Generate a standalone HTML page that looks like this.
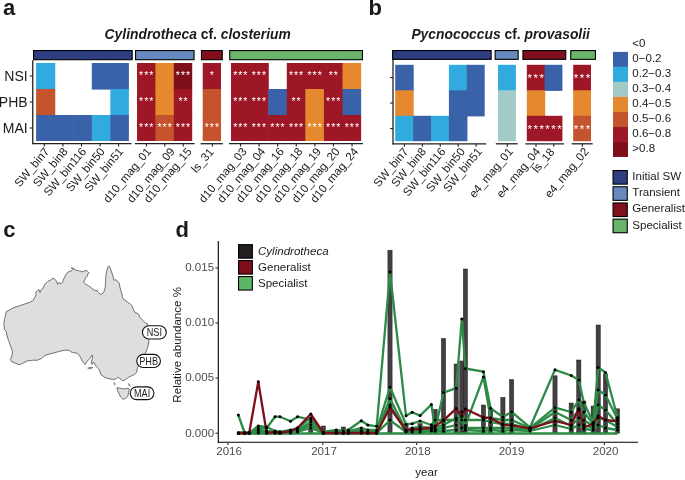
<!DOCTYPE html>
<html><head><meta charset="utf-8"><style>
html,body{margin:0;padding:0;background:#fff;width:685px;height:480px;overflow:hidden;}
svg{display:block;will-change:transform;}
text{font-family:"Liberation Sans", sans-serif;}
</style></head><body>
<svg width="685" height="480" viewBox="0 0 685 480" font-family='"Liberation Sans", sans-serif'><rect width="685" height="480" fill="#fff"/><text x="3.00" y="14.90" font-size="22" text-anchor="start" font-weight="bold" font-style="normal" fill="#1A1A1A" >a</text><text x="368.40" y="14.70" font-size="22" text-anchor="start" font-weight="bold" font-style="normal" fill="#1A1A1A" >b</text><text x="3.20" y="237.20" font-size="22" text-anchor="start" font-weight="bold" font-style="normal" fill="#1A1A1A" >c</text><text x="175.60" y="237.00" font-size="22" text-anchor="start" font-weight="bold" font-style="normal" fill="#1A1A1A" >d</text><rect x="33.55" y="50.55" width="98.65" height="9.15" fill="#2F3D81" stroke="#000" stroke-width="1.1"/><rect x="36.10" y="63.00" width="19.16" height="26.60" fill="#30AADF"/><rect x="36.10" y="89.00" width="19.16" height="26.60" fill="#C4532E"/><rect x="36.10" y="115.00" width="19.16" height="26.00" fill="#3A62A8"/><rect x="54.66" y="115.00" width="19.16" height="26.00" fill="#3A62A8"/><rect x="73.22" y="115.00" width="19.16" height="26.00" fill="#3A62A8"/><rect x="91.78" y="63.00" width="19.16" height="26.60" fill="#3A62A8"/><rect x="91.78" y="115.00" width="19.16" height="26.00" fill="#30AADF"/><rect x="110.34" y="63.00" width="18.56" height="26.60" fill="#3A62A8"/><rect x="110.34" y="89.00" width="18.56" height="26.60" fill="#30AADF"/><rect x="110.34" y="115.00" width="18.56" height="26.00" fill="#3A62A8"/><line x1="32.40" y1="143.70" x2="131.50" y2="143.70" stroke="#222222" stroke-width="1.3"/><line x1="44.38" y1="143.70" x2="44.38" y2="146.60" stroke="#222222" stroke-width="1.1"/><text transform="translate(43.38,146.40) rotate(-50)" font-size="11.55" text-anchor="end" fill="#1A1A1A" dy="0.72em">SW_bin7</text><line x1="62.94" y1="143.70" x2="62.94" y2="146.60" stroke="#222222" stroke-width="1.1"/><text transform="translate(61.94,146.40) rotate(-50)" font-size="11.55" text-anchor="end" fill="#1A1A1A" dy="0.72em">SW_bin8</text><line x1="81.50" y1="143.70" x2="81.50" y2="146.60" stroke="#222222" stroke-width="1.1"/><text transform="translate(80.50,146.40) rotate(-50)" font-size="11.55" text-anchor="end" fill="#1A1A1A" dy="0.72em">SW_bin116</text><line x1="100.06" y1="143.70" x2="100.06" y2="146.60" stroke="#222222" stroke-width="1.1"/><text transform="translate(99.06,146.40) rotate(-50)" font-size="11.55" text-anchor="end" fill="#1A1A1A" dy="0.72em">SW_bin50</text><line x1="118.62" y1="143.70" x2="118.62" y2="146.60" stroke="#222222" stroke-width="1.1"/><text transform="translate(117.62,146.40) rotate(-50)" font-size="11.55" text-anchor="end" fill="#1A1A1A" dy="0.72em">SW_bin51</text><rect x="135.55" y="50.55" width="58.50" height="9.15" fill="#6889BD" stroke="#000" stroke-width="1.1"/><rect x="137.00" y="63.00" width="19.00" height="26.60" fill="#9E1726"/><rect x="137.00" y="89.00" width="19.00" height="26.60" fill="#9E1726"/><rect x="137.00" y="115.00" width="19.00" height="26.00" fill="#9E1726"/><rect x="155.40" y="63.00" width="19.00" height="26.60" fill="#E5882E"/><rect x="155.40" y="89.00" width="19.00" height="26.60" fill="#E5882E"/><rect x="155.40" y="115.00" width="19.00" height="26.00" fill="#C4532E"/><rect x="173.80" y="63.00" width="18.40" height="26.60" fill="#7F0E1B"/><rect x="173.80" y="89.00" width="18.40" height="26.60" fill="#9E1726"/><rect x="173.80" y="115.00" width="18.40" height="26.00" fill="#9E1726"/><text x="141.10" y="79.40" font-size="10.5" text-anchor="middle" font-weight="normal" font-style="normal" fill="#FFFFFF" >*</text><text x="146.20" y="79.40" font-size="10.5" text-anchor="middle" font-weight="normal" font-style="normal" fill="#FFFFFF" >*</text><text x="151.30" y="79.40" font-size="10.5" text-anchor="middle" font-weight="normal" font-style="normal" fill="#FFFFFF" >*</text><text x="141.10" y="105.40" font-size="10.5" text-anchor="middle" font-weight="normal" font-style="normal" fill="#FFFFFF" >*</text><text x="146.20" y="105.40" font-size="10.5" text-anchor="middle" font-weight="normal" font-style="normal" fill="#FFFFFF" >*</text><text x="151.30" y="105.40" font-size="10.5" text-anchor="middle" font-weight="normal" font-style="normal" fill="#FFFFFF" >*</text><text x="141.10" y="131.40" font-size="10.5" text-anchor="middle" font-weight="normal" font-style="normal" fill="#FFFFFF" >*</text><text x="146.20" y="131.40" font-size="10.5" text-anchor="middle" font-weight="normal" font-style="normal" fill="#FFFFFF" >*</text><text x="151.30" y="131.40" font-size="10.5" text-anchor="middle" font-weight="normal" font-style="normal" fill="#FFFFFF" >*</text><text x="159.50" y="131.40" font-size="10.5" text-anchor="middle" font-weight="normal" font-style="normal" fill="#FFFFFF" >*</text><text x="164.60" y="131.40" font-size="10.5" text-anchor="middle" font-weight="normal" font-style="normal" fill="#FFFFFF" >*</text><text x="169.70" y="131.40" font-size="10.5" text-anchor="middle" font-weight="normal" font-style="normal" fill="#FFFFFF" >*</text><text x="177.90" y="79.40" font-size="10.5" text-anchor="middle" font-weight="normal" font-style="normal" fill="#FFFFFF" >*</text><text x="183.00" y="79.40" font-size="10.5" text-anchor="middle" font-weight="normal" font-style="normal" fill="#FFFFFF" >*</text><text x="188.10" y="79.40" font-size="10.5" text-anchor="middle" font-weight="normal" font-style="normal" fill="#FFFFFF" >*</text><text x="180.45" y="105.40" font-size="10.5" text-anchor="middle" font-weight="normal" font-style="normal" fill="#FFFFFF" >*</text><text x="185.55" y="105.40" font-size="10.5" text-anchor="middle" font-weight="normal" font-style="normal" fill="#FFFFFF" >*</text><text x="177.90" y="131.40" font-size="10.5" text-anchor="middle" font-weight="normal" font-style="normal" fill="#FFFFFF" >*</text><text x="183.00" y="131.40" font-size="10.5" text-anchor="middle" font-weight="normal" font-style="normal" fill="#FFFFFF" >*</text><text x="188.10" y="131.40" font-size="10.5" text-anchor="middle" font-weight="normal" font-style="normal" fill="#FFFFFF" >*</text><line x1="135.00" y1="143.70" x2="194.50" y2="143.70" stroke="#222222" stroke-width="1.3"/><line x1="146.40" y1="143.70" x2="146.40" y2="146.60" stroke="#222222" stroke-width="1.1"/><text transform="translate(145.50,146.40) rotate(-50)" font-size="11.55" text-anchor="end" fill="#1A1A1A" dy="0.72em">d10_mag_01</text><line x1="164.80" y1="143.70" x2="164.80" y2="146.60" stroke="#222222" stroke-width="1.1"/><text transform="translate(169.10,146.40) rotate(-50)" font-size="11.55" text-anchor="end" fill="#1A1A1A" dy="0.72em">d10_mag_09</text><line x1="183.20" y1="143.70" x2="183.20" y2="146.60" stroke="#222222" stroke-width="1.1"/><text transform="translate(186.00,146.40) rotate(-50)" font-size="11.55" text-anchor="end" fill="#1A1A1A" dy="0.72em">d10_mag_15</text><rect x="201.45" y="50.55" width="20.80" height="9.15" fill="#820F1D" stroke="#000" stroke-width="1.1"/><rect x="202.70" y="63.00" width="18.30" height="26.60" fill="#9E1726"/><rect x="202.70" y="89.00" width="18.30" height="26.60" fill="#C4532E"/><rect x="202.70" y="115.00" width="18.30" height="26.00" fill="#C4532E"/><text x="211.85" y="79.40" font-size="10.5" text-anchor="middle" font-weight="normal" font-style="normal" fill="#FFFFFF" >*</text><text x="206.75" y="131.40" font-size="10.5" text-anchor="middle" font-weight="normal" font-style="normal" fill="#FFFFFF" >*</text><text x="211.85" y="131.40" font-size="10.5" text-anchor="middle" font-weight="normal" font-style="normal" fill="#FFFFFF" >*</text><text x="216.95" y="131.40" font-size="10.5" text-anchor="middle" font-weight="normal" font-style="normal" fill="#FFFFFF" >*</text><line x1="200.60" y1="143.70" x2="222.80" y2="143.70" stroke="#222222" stroke-width="1.3"/><line x1="212.45" y1="143.70" x2="212.45" y2="146.60" stroke="#222222" stroke-width="1.1"/><text transform="translate(207.95,146.90) rotate(-50)" font-size="11.55" text-anchor="end" fill="#1A1A1A" dy="0.72em">ls_31</text><rect x="229.75" y="50.55" width="132.70" height="9.15" fill="#6BB46B" stroke="#000" stroke-width="1.1"/><rect x="231.00" y="63.00" width="19.19" height="26.60" fill="#9E1726"/><rect x="231.00" y="89.00" width="19.19" height="26.60" fill="#9E1726"/><rect x="231.00" y="115.00" width="19.19" height="26.00" fill="#9E1726"/><rect x="249.59" y="63.00" width="19.19" height="26.60" fill="#9E1726"/><rect x="249.59" y="89.00" width="19.19" height="26.60" fill="#9E1726"/><rect x="249.59" y="115.00" width="19.19" height="26.00" fill="#9E1726"/><rect x="268.18" y="89.00" width="19.19" height="26.60" fill="#3A62A8"/><rect x="268.18" y="115.00" width="19.19" height="26.00" fill="#9E1726"/><rect x="286.77" y="63.00" width="19.19" height="26.60" fill="#9E1726"/><rect x="286.77" y="89.00" width="19.19" height="26.60" fill="#9E1726"/><rect x="286.77" y="115.00" width="19.19" height="26.00" fill="#9E1726"/><rect x="305.36" y="63.00" width="19.19" height="26.60" fill="#9E1726"/><rect x="305.36" y="89.00" width="19.19" height="26.60" fill="#E5882E"/><rect x="305.36" y="115.00" width="19.19" height="26.00" fill="#E5882E"/><rect x="323.95" y="63.00" width="19.19" height="26.60" fill="#9E1726"/><rect x="323.95" y="89.00" width="19.19" height="26.60" fill="#9E1726"/><rect x="323.95" y="115.00" width="19.19" height="26.00" fill="#9E1726"/><rect x="342.54" y="63.00" width="18.59" height="26.60" fill="#E5882E"/><rect x="342.54" y="89.00" width="18.59" height="26.60" fill="#3A62A8"/><rect x="342.54" y="115.00" width="18.59" height="26.00" fill="#9E1726"/><text x="235.19" y="79.40" font-size="10.5" text-anchor="middle" font-weight="normal" font-style="normal" fill="#FFFFFF" >*</text><text x="240.29" y="79.40" font-size="10.5" text-anchor="middle" font-weight="normal" font-style="normal" fill="#FFFFFF" >*</text><text x="245.39" y="79.40" font-size="10.5" text-anchor="middle" font-weight="normal" font-style="normal" fill="#FFFFFF" >*</text><text x="235.19" y="105.40" font-size="10.5" text-anchor="middle" font-weight="normal" font-style="normal" fill="#FFFFFF" >*</text><text x="240.29" y="105.40" font-size="10.5" text-anchor="middle" font-weight="normal" font-style="normal" fill="#FFFFFF" >*</text><text x="245.39" y="105.40" font-size="10.5" text-anchor="middle" font-weight="normal" font-style="normal" fill="#FFFFFF" >*</text><text x="235.19" y="131.40" font-size="10.5" text-anchor="middle" font-weight="normal" font-style="normal" fill="#FFFFFF" >*</text><text x="240.29" y="131.40" font-size="10.5" text-anchor="middle" font-weight="normal" font-style="normal" fill="#FFFFFF" >*</text><text x="245.39" y="131.40" font-size="10.5" text-anchor="middle" font-weight="normal" font-style="normal" fill="#FFFFFF" >*</text><text x="253.78" y="79.40" font-size="10.5" text-anchor="middle" font-weight="normal" font-style="normal" fill="#FFFFFF" >*</text><text x="258.88" y="79.40" font-size="10.5" text-anchor="middle" font-weight="normal" font-style="normal" fill="#FFFFFF" >*</text><text x="263.99" y="79.40" font-size="10.5" text-anchor="middle" font-weight="normal" font-style="normal" fill="#FFFFFF" >*</text><text x="253.78" y="105.40" font-size="10.5" text-anchor="middle" font-weight="normal" font-style="normal" fill="#FFFFFF" >*</text><text x="258.88" y="105.40" font-size="10.5" text-anchor="middle" font-weight="normal" font-style="normal" fill="#FFFFFF" >*</text><text x="263.99" y="105.40" font-size="10.5" text-anchor="middle" font-weight="normal" font-style="normal" fill="#FFFFFF" >*</text><text x="253.78" y="131.40" font-size="10.5" text-anchor="middle" font-weight="normal" font-style="normal" fill="#FFFFFF" >*</text><text x="258.88" y="131.40" font-size="10.5" text-anchor="middle" font-weight="normal" font-style="normal" fill="#FFFFFF" >*</text><text x="263.99" y="131.40" font-size="10.5" text-anchor="middle" font-weight="normal" font-style="normal" fill="#FFFFFF" >*</text><text x="272.38" y="131.40" font-size="10.5" text-anchor="middle" font-weight="normal" font-style="normal" fill="#FFFFFF" >*</text><text x="277.48" y="131.40" font-size="10.5" text-anchor="middle" font-weight="normal" font-style="normal" fill="#FFFFFF" >*</text><text x="282.58" y="131.40" font-size="10.5" text-anchor="middle" font-weight="normal" font-style="normal" fill="#FFFFFF" >*</text><text x="290.96" y="79.40" font-size="10.5" text-anchor="middle" font-weight="normal" font-style="normal" fill="#FFFFFF" >*</text><text x="296.06" y="79.40" font-size="10.5" text-anchor="middle" font-weight="normal" font-style="normal" fill="#FFFFFF" >*</text><text x="301.17" y="79.40" font-size="10.5" text-anchor="middle" font-weight="normal" font-style="normal" fill="#FFFFFF" >*</text><text x="293.51" y="105.40" font-size="10.5" text-anchor="middle" font-weight="normal" font-style="normal" fill="#FFFFFF" >*</text><text x="298.62" y="105.40" font-size="10.5" text-anchor="middle" font-weight="normal" font-style="normal" fill="#FFFFFF" >*</text><text x="290.96" y="131.40" font-size="10.5" text-anchor="middle" font-weight="normal" font-style="normal" fill="#FFFFFF" >*</text><text x="296.06" y="131.40" font-size="10.5" text-anchor="middle" font-weight="normal" font-style="normal" fill="#FFFFFF" >*</text><text x="301.17" y="131.40" font-size="10.5" text-anchor="middle" font-weight="normal" font-style="normal" fill="#FFFFFF" >*</text><text x="309.56" y="79.40" font-size="10.5" text-anchor="middle" font-weight="normal" font-style="normal" fill="#FFFFFF" >*</text><text x="314.66" y="79.40" font-size="10.5" text-anchor="middle" font-weight="normal" font-style="normal" fill="#FFFFFF" >*</text><text x="319.76" y="79.40" font-size="10.5" text-anchor="middle" font-weight="normal" font-style="normal" fill="#FFFFFF" >*</text><text x="309.56" y="131.40" font-size="10.5" text-anchor="middle" font-weight="normal" font-style="normal" fill="#FFFFFF" >*</text><text x="314.66" y="131.40" font-size="10.5" text-anchor="middle" font-weight="normal" font-style="normal" fill="#FFFFFF" >*</text><text x="319.76" y="131.40" font-size="10.5" text-anchor="middle" font-weight="normal" font-style="normal" fill="#FFFFFF" >*</text><text x="330.69" y="79.40" font-size="10.5" text-anchor="middle" font-weight="normal" font-style="normal" fill="#FFFFFF" >*</text><text x="335.80" y="79.40" font-size="10.5" text-anchor="middle" font-weight="normal" font-style="normal" fill="#FFFFFF" >*</text><text x="328.14" y="105.40" font-size="10.5" text-anchor="middle" font-weight="normal" font-style="normal" fill="#FFFFFF" >*</text><text x="333.25" y="105.40" font-size="10.5" text-anchor="middle" font-weight="normal" font-style="normal" fill="#FFFFFF" >*</text><text x="338.35" y="105.40" font-size="10.5" text-anchor="middle" font-weight="normal" font-style="normal" fill="#FFFFFF" >*</text><text x="328.14" y="131.40" font-size="10.5" text-anchor="middle" font-weight="normal" font-style="normal" fill="#FFFFFF" >*</text><text x="333.25" y="131.40" font-size="10.5" text-anchor="middle" font-weight="normal" font-style="normal" fill="#FFFFFF" >*</text><text x="338.35" y="131.40" font-size="10.5" text-anchor="middle" font-weight="normal" font-style="normal" fill="#FFFFFF" >*</text><text x="346.73" y="131.40" font-size="10.5" text-anchor="middle" font-weight="normal" font-style="normal" fill="#FFFFFF" >*</text><text x="351.83" y="131.40" font-size="10.5" text-anchor="middle" font-weight="normal" font-style="normal" fill="#FFFFFF" >*</text><text x="356.94" y="131.40" font-size="10.5" text-anchor="middle" font-weight="normal" font-style="normal" fill="#FFFFFF" >*</text><line x1="229.00" y1="143.70" x2="362.90" y2="143.70" stroke="#222222" stroke-width="1.3"/><line x1="240.49" y1="143.70" x2="240.49" y2="146.60" stroke="#222222" stroke-width="1.1"/><text transform="translate(240.99,146.40) rotate(-50)" font-size="11.55" text-anchor="end" fill="#1A1A1A" dy="0.72em">d10_mag_03</text><line x1="259.08" y1="143.70" x2="259.08" y2="146.60" stroke="#222222" stroke-width="1.1"/><text transform="translate(259.58,146.40) rotate(-50)" font-size="11.55" text-anchor="end" fill="#1A1A1A" dy="0.72em">d10_mag_04</text><line x1="277.68" y1="143.70" x2="277.68" y2="146.60" stroke="#222222" stroke-width="1.1"/><text transform="translate(278.18,146.40) rotate(-50)" font-size="11.55" text-anchor="end" fill="#1A1A1A" dy="0.72em">d10_mag_16</text><line x1="296.26" y1="143.70" x2="296.26" y2="146.60" stroke="#222222" stroke-width="1.1"/><text transform="translate(296.76,146.40) rotate(-50)" font-size="11.55" text-anchor="end" fill="#1A1A1A" dy="0.72em">d10_mag_18</text><line x1="314.86" y1="143.70" x2="314.86" y2="146.60" stroke="#222222" stroke-width="1.1"/><text transform="translate(315.36,146.40) rotate(-50)" font-size="11.55" text-anchor="end" fill="#1A1A1A" dy="0.72em">d10_mag_19</text><line x1="333.44" y1="143.70" x2="333.44" y2="146.60" stroke="#222222" stroke-width="1.1"/><text transform="translate(333.94,146.40) rotate(-50)" font-size="11.55" text-anchor="end" fill="#1A1A1A" dy="0.72em">d10_mag_20</text><line x1="352.03" y1="143.70" x2="352.03" y2="146.60" stroke="#222222" stroke-width="1.1"/><text transform="translate(352.53,146.40) rotate(-50)" font-size="11.55" text-anchor="end" fill="#1A1A1A" dy="0.72em">d10_mag_24</text><line x1="32.75" y1="60.25" x2="32.75" y2="144.30" stroke="#222222" stroke-width="1.3"/><line x1="29.85" y1="76.00" x2="32.75" y2="76.00" stroke="#222222" stroke-width="1.1"/><text x="27.65" y="81.00" font-size="14.0" text-anchor="end" font-weight="normal" font-style="normal" fill="#1A1A1A" >NSI</text><line x1="29.85" y1="102.00" x2="32.75" y2="102.00" stroke="#222222" stroke-width="1.1"/><text x="27.65" y="107.00" font-size="14.0" text-anchor="end" font-weight="normal" font-style="normal" fill="#1A1A1A" >PHB</text><line x1="29.85" y1="128.00" x2="32.75" y2="128.00" stroke="#222222" stroke-width="1.1"/><text x="27.65" y="133.00" font-size="14.0" text-anchor="end" font-weight="normal" font-style="normal" fill="#1A1A1A" >MAI</text><text x="104.60" y="39.00" font-size="13.85" font-weight="bold" fill="#1A1A1A"><tspan font-style="italic">Cylindrotheca</tspan> cf. <tspan font-style="italic">closterium</tspan></text><rect x="392.65" y="50.55" width="98.50" height="8.80" fill="#2F3D81" stroke="#000" stroke-width="1.1"/><rect x="395.20" y="64.80" width="18.50" height="26.10" fill="#3A62A8"/><rect x="395.20" y="90.30" width="18.50" height="26.10" fill="#E5882E"/><rect x="395.20" y="115.80" width="18.50" height="25.40" fill="#30AADF"/><rect x="413.10" y="115.80" width="18.50" height="25.40" fill="#3A62A8"/><rect x="431.00" y="115.80" width="18.50" height="25.40" fill="#30AADF"/><rect x="448.90" y="64.80" width="18.50" height="26.10" fill="#30AADF"/><rect x="448.90" y="90.30" width="18.50" height="26.10" fill="#3A62A8"/><rect x="448.90" y="115.80" width="18.50" height="25.40" fill="#3A62A8"/><rect x="466.80" y="64.80" width="17.90" height="26.10" fill="#3A62A8"/><rect x="466.80" y="90.30" width="17.90" height="26.10" fill="#3A62A8"/><line x1="392.50" y1="143.80" x2="486.20" y2="143.80" stroke="#222222" stroke-width="1.3"/><line x1="404.45" y1="143.80" x2="404.45" y2="146.70" stroke="#222222" stroke-width="1.1"/><text transform="translate(402.45,146.50) rotate(-50)" font-size="11.55" text-anchor="end" fill="#1A1A1A" dy="0.72em">SW_bin7</text><line x1="422.35" y1="143.80" x2="422.35" y2="146.70" stroke="#222222" stroke-width="1.1"/><text transform="translate(420.35,146.50) rotate(-50)" font-size="11.55" text-anchor="end" fill="#1A1A1A" dy="0.72em">SW_bin8</text><line x1="440.25" y1="143.80" x2="440.25" y2="146.70" stroke="#222222" stroke-width="1.1"/><text transform="translate(439.75,146.50) rotate(-50)" font-size="11.55" text-anchor="end" fill="#1A1A1A" dy="0.72em">SW_bin116</text><line x1="458.15" y1="143.80" x2="458.15" y2="146.70" stroke="#222222" stroke-width="1.1"/><text transform="translate(459.15,146.50) rotate(-50)" font-size="11.55" text-anchor="end" fill="#1A1A1A" dy="0.72em">SW_bin50</text><line x1="476.05" y1="143.80" x2="476.05" y2="146.70" stroke="#222222" stroke-width="1.1"/><text transform="translate(476.35,146.50) rotate(-50)" font-size="11.55" text-anchor="end" fill="#1A1A1A" dy="0.72em">SW_bin51</text><rect x="495.15" y="50.55" width="23.00" height="8.80" fill="#6889BD" stroke="#000" stroke-width="1.1"/><rect x="498.00" y="64.80" width="17.90" height="26.10" fill="#30AADF"/><rect x="498.00" y="90.30" width="17.90" height="26.10" fill="#A2CBC8"/><rect x="498.00" y="115.80" width="17.90" height="25.40" fill="#A2CBC8"/><line x1="495.80" y1="143.80" x2="517.70" y2="143.80" stroke="#222222" stroke-width="1.3"/><line x1="507.25" y1="143.80" x2="507.25" y2="146.70" stroke="#222222" stroke-width="1.1"/><text transform="translate(507.25,146.50) rotate(-50)" font-size="11.55" text-anchor="end" fill="#1A1A1A" dy="0.72em">e4_mag_01</text><rect x="522.95" y="50.55" width="42.80" height="8.80" fill="#820F1D" stroke="#000" stroke-width="1.1"/><rect x="526.80" y="64.80" width="18.40" height="26.10" fill="#9E1726"/><rect x="526.80" y="90.30" width="18.40" height="26.10" fill="#E5882E"/><rect x="526.80" y="115.80" width="18.40" height="25.40" fill="#9E1726"/><rect x="544.60" y="64.80" width="17.80" height="26.10" fill="#3A62A8"/><rect x="544.60" y="115.80" width="17.80" height="25.40" fill="#9E1726"/><text x="529.70" y="82.05" font-size="11.5" text-anchor="middle" font-weight="normal" font-style="normal" fill="#FFFFFF" >*</text><text x="535.70" y="82.05" font-size="11.5" text-anchor="middle" font-weight="normal" font-style="normal" fill="#FFFFFF" >*</text><text x="541.70" y="82.05" font-size="11.5" text-anchor="middle" font-weight="normal" font-style="normal" fill="#FFFFFF" >*</text><text x="529.70" y="133.00" font-size="11.5" text-anchor="middle" font-weight="normal" font-style="normal" fill="#FFFFFF" >*</text><text x="535.70" y="133.00" font-size="11.5" text-anchor="middle" font-weight="normal" font-style="normal" fill="#FFFFFF" >*</text><text x="541.70" y="133.00" font-size="11.5" text-anchor="middle" font-weight="normal" font-style="normal" fill="#FFFFFF" >*</text><text x="547.50" y="133.00" font-size="11.5" text-anchor="middle" font-weight="normal" font-style="normal" fill="#FFFFFF" >*</text><text x="553.50" y="133.00" font-size="11.5" text-anchor="middle" font-weight="normal" font-style="normal" fill="#FFFFFF" >*</text><text x="559.50" y="133.00" font-size="11.5" text-anchor="middle" font-weight="normal" font-style="normal" fill="#FFFFFF" >*</text><line x1="525.30" y1="143.80" x2="564.00" y2="143.80" stroke="#222222" stroke-width="1.3"/><line x1="536.00" y1="143.80" x2="536.00" y2="146.70" stroke="#222222" stroke-width="1.1"/><text transform="translate(534.50,146.50) rotate(-50)" font-size="11.55" text-anchor="end" fill="#1A1A1A" dy="0.72em">e4_mag_04</text><line x1="553.80" y1="143.80" x2="553.80" y2="146.70" stroke="#222222" stroke-width="1.1"/><text transform="translate(548.80,147.00) rotate(-50)" font-size="11.55" text-anchor="end" fill="#1A1A1A" dy="0.72em">ls_18</text><rect x="570.75" y="50.55" width="24.70" height="8.80" fill="#6BB46B" stroke="#000" stroke-width="1.1"/><rect x="573.20" y="64.80" width="17.80" height="26.10" fill="#9E1726"/><rect x="573.20" y="90.30" width="17.80" height="26.10" fill="#E5882E"/><rect x="573.20" y="115.80" width="17.80" height="25.40" fill="#C4532E"/><text x="576.10" y="82.05" font-size="11.5" text-anchor="middle" font-weight="normal" font-style="normal" fill="#FFFFFF" >*</text><text x="582.10" y="82.05" font-size="11.5" text-anchor="middle" font-weight="normal" font-style="normal" fill="#FFFFFF" >*</text><text x="588.10" y="82.05" font-size="11.5" text-anchor="middle" font-weight="normal" font-style="normal" fill="#FFFFFF" >*</text><text x="576.10" y="133.00" font-size="11.5" text-anchor="middle" font-weight="normal" font-style="normal" fill="#FFFFFF" >*</text><text x="582.10" y="133.00" font-size="11.5" text-anchor="middle" font-weight="normal" font-style="normal" fill="#FFFFFF" >*</text><text x="588.10" y="133.00" font-size="11.5" text-anchor="middle" font-weight="normal" font-style="normal" fill="#FFFFFF" >*</text><line x1="571.70" y1="143.80" x2="592.70" y2="143.80" stroke="#222222" stroke-width="1.3"/><line x1="582.40" y1="143.80" x2="582.40" y2="146.70" stroke="#222222" stroke-width="1.1"/><text transform="translate(582.90,146.50) rotate(-50)" font-size="11.55" text-anchor="end" fill="#1A1A1A" dy="0.72em">e4_mag_02</text><line x1="393.00" y1="59.90" x2="393.00" y2="144.40" stroke="#222222" stroke-width="1.3"/><line x1="390.10" y1="77.55" x2="393.00" y2="77.55" stroke="#222222" stroke-width="1.1"/><line x1="390.10" y1="103.05" x2="393.00" y2="103.05" stroke="#222222" stroke-width="1.1"/><line x1="390.10" y1="128.50" x2="393.00" y2="128.50" stroke="#222222" stroke-width="1.1"/><text x="411.40" y="39.00" font-size="13.85" font-weight="bold" fill="#1A1A1A"><tspan font-style="italic">Pycnococcus</tspan> cf. <tspan font-style="italic">provasolii</tspan></text><text x="632.30" y="47.00" font-size="11.55" text-anchor="start" font-weight="normal" font-style="normal" fill="#1A1A1A" >&lt;0</text><rect x="613.0" y="51.90" width="15.0" height="15.05" fill="#3A62A8"/><text x="632.30" y="62.00" font-size="11.55" text-anchor="start" font-weight="normal" font-style="normal" fill="#1A1A1A" >0&#8722;0.2</text><rect x="613.0" y="66.90" width="15.0" height="15.05" fill="#30AADF"/><text x="632.30" y="77.00" font-size="11.55" text-anchor="start" font-weight="normal" font-style="normal" fill="#1A1A1A" >0.2&#8722;0.3</text><rect x="613.0" y="81.90" width="15.0" height="15.05" fill="#A2CBC8"/><text x="632.30" y="92.00" font-size="11.55" text-anchor="start" font-weight="normal" font-style="normal" fill="#1A1A1A" >0.3&#8722;0.4</text><rect x="613.0" y="96.90" width="15.0" height="15.05" fill="#E5882E"/><text x="632.30" y="107.00" font-size="11.55" text-anchor="start" font-weight="normal" font-style="normal" fill="#1A1A1A" >0.4&#8722;0.5</text><rect x="613.0" y="111.90" width="15.0" height="15.05" fill="#C4532E"/><text x="632.30" y="122.00" font-size="11.55" text-anchor="start" font-weight="normal" font-style="normal" fill="#1A1A1A" >0.5&#8722;0.6</text><rect x="613.0" y="126.90" width="15.0" height="15.05" fill="#9E1726"/><text x="632.30" y="137.00" font-size="11.55" text-anchor="start" font-weight="normal" font-style="normal" fill="#1A1A1A" >0.6&#8722;0.8</text><rect x="613.0" y="141.90" width="15.0" height="15.05" fill="#7F0E1B"/><text x="632.30" y="152.00" font-size="11.55" text-anchor="start" font-weight="normal" font-style="normal" fill="#1A1A1A" >&gt;0.8</text><rect x="613.05" y="170.55" width="14.20" height="13.60" fill="#2F3D81" stroke="#000" stroke-width="1.1"/><text x="632.30" y="180.05" font-size="11.55" text-anchor="start" font-weight="normal" font-style="normal" fill="#1A1A1A" >Initial SW</text><rect x="613.05" y="186.75" width="14.20" height="13.60" fill="#6889BD" stroke="#000" stroke-width="1.1"/><text x="632.30" y="196.25" font-size="11.55" text-anchor="start" font-weight="normal" font-style="normal" fill="#1A1A1A" >Transient</text><rect x="613.05" y="202.95" width="14.20" height="13.60" fill="#820F1D" stroke="#000" stroke-width="1.1"/><text x="632.30" y="212.45" font-size="11.55" text-anchor="start" font-weight="normal" font-style="normal" fill="#1A1A1A" >Generalist</text><rect x="613.05" y="219.15" width="14.20" height="13.60" fill="#6BB46B" stroke="#000" stroke-width="1.1"/><text x="632.30" y="228.65" font-size="11.55" text-anchor="start" font-weight="normal" font-style="normal" fill="#1A1A1A" >Specialist</text><path d="M11.7,361.7 L10.2,359.4 L11.7,357.0 L12.5,351.6 L10.9,346.9 L8.6,340.6 L7.0,335.9 L6.2,331.2 L3.9,328.9 L4.4,327.3 L3.9,323.4 L4.4,319.5 L5.5,315.6 L6.2,311.7 L7.8,310.9 L11.7,308.6 L15.6,307.0 L20.3,305.5 L25.0,303.9 L29.7,302.3 L32.8,300.8 L34.4,298.1 L36.2,295.0 L35.6,292.5 L37.5,290.6 L38.8,289.4 L40.0,292.5 L41.2,290.0 L43.1,288.1 L44.4,285.0 L46.2,283.1 L48.1,281.2 L50.6,280.0 L53.1,278.1 L55.0,279.4 L56.9,281.9 L57.5,284.4 L58.8,282.5 L61.2,283.8 L62.5,282.5 L63.8,278.8 L65.6,275.0 L67.5,272.5 L70.0,271.2 L71.9,270.6 L73.1,269.4 L71.2,268.1 L73.8,268.1 L75.0,270.0 L77.5,270.6 L79.4,270.9 L82.2,271.9 L84.5,270.9 L86.4,270.5 L88.3,271.9 L89.2,272.8 L87.8,273.8 L87.3,276.1 L85.9,277.5 L85.0,279.4 L83.6,282.2 L85.5,284.0 L88.7,285.9 L92.5,288.8 L94.8,290.6 L97.2,290.6 L97.6,292.0 L99.1,293.4 L100.9,294.4 L102.8,293.4 L104.2,291.1 L105.1,287.8 L105.6,283.1 L105.6,278.4 L106.1,273.8 L107.0,270.0 L108.0,266.7 L108.9,265.8 L109.8,266.7 L110.8,270.0 L112.2,273.8 L113.1,276.6 L114.0,280.3 L115.9,279.8 L117.8,281.2 L119.2,283.1 L119.9,287.0 L120.6,290.0 L121.9,293.8 L122.5,297.5 L124.4,300.0 L127.5,301.9 L130.6,304.4 L131.9,305.6 L133.1,308.8 L135.0,312.5 L136.9,313.1 L138.8,314.4 L140.0,317.5 L143.1,320.6 L145.6,323.1 L147.5,323.8 L148.6,330.0 L149.1,339.4 L148.3,345.2 L146.9,349.6 L145.4,353.2 L141.5,360.0 L137.4,367.8 L136.7,372.2 L134.5,374.4 L131.6,375.8 L128.6,377.3 L126.5,378.8 L124.3,380.2 L122.8,381.0 L121.4,379.5 L119.2,378.0 L117.7,377.3 L116.2,378.8 L113.3,379.5 L109.0,378.8 L104.6,377.3 L100.9,374.4 L100.1,372.0 L99.0,369.5 L97.5,367.5 L96.2,366.4 L95.0,364.5 L94.2,362.5 L93.3,362.2 L92.4,364.3 L91.2,363.6 L91.6,361.0 L92.6,357.5 L92.1,355.0 L89.9,358.6 L87.0,361.2 L85.2,364.5 L83.4,362.6 L81.9,360.0 L79.7,356.0 L77.5,353.5 L74.0,352.6 L71.0,352.0 L69.1,350.2 L64.1,350.3 L58.6,351.6 L53.1,353.1 L46.9,354.7 L43.8,356.2 L41.4,358.6 L37.5,360.2 L32.8,360.2 L27.3,360.9 L22.7,363.3 L19.5,364.8 L15.6,363.3 Z" fill="#DEDEDE" stroke="#505050" stroke-width="0.8" stroke-linejoin="round"/><path d="M87.7,368.1 L90.0,367.4 L92.8,367.5 L91.0,368.6 L88.5,368.8 Z" fill="#DEDEDE" stroke="#505050" stroke-width="0.7"/><path d="M117.0,387.5 L119.2,388.2 L124.3,389.0 L127.9,388.2 L129.4,389.0 L128.6,392.6 L127.9,396.2 L125.7,398.4 L122.8,399.2 L120.6,397.0 L119.2,394.0 L117.7,391.1 Z" fill="#DEDEDE" stroke="#505050" stroke-width="0.8" stroke-linejoin="round"/><ellipse cx="114.5" cy="383.8" rx="0.6" ry="1.1" fill="#DEDEDE" stroke="#505050" stroke-width="0.6"/><path d="M128.3,383.6 L129.6,384.4 L130.4,386.2 L129.2,385.6 Z" fill="#DEDEDE" stroke="#505050" stroke-width="0.6"/><rect x="142.45" y="325.75" width="23.80" height="13.30" rx="6.65" fill="#fff" stroke="#111" stroke-width="1.1"/><text transform="translate(154.35,336.05) scale(0.86,1)" font-size="10.6" text-anchor="middle" fill="#1a1a1a">NSI</text><rect x="136.75" y="354.35" width="23.70" height="13.10" rx="6.55" fill="#fff" stroke="#111" stroke-width="1.1"/><text transform="translate(148.60,364.55) scale(0.86,1)" font-size="10.6" text-anchor="middle" fill="#1a1a1a">PHB</text><rect x="130.25" y="386.85" width="23.70" height="12.80" rx="6.40" fill="#fff" stroke="#111" stroke-width="1.1"/><text transform="translate(142.10,396.90) scale(0.86,1)" font-size="10.6" text-anchor="middle" fill="#1a1a1a">MAI</text><line x1="218.3" y1="241.0" x2="218.3" y2="442.75" stroke="#000" stroke-width="1.1"/><line x1="217.75" y1="442.2" x2="638.1" y2="442.2" stroke="#000" stroke-width="1.1"/><line x1="215.4" y1="433.20" x2="218.3" y2="433.20" stroke="#333" stroke-width="1.1"/><text x="214.10" y="436.50" font-size="11.55" text-anchor="end" font-weight="normal" font-style="normal" fill="#4D4D4D" >0.000</text><line x1="215.4" y1="378.10" x2="218.3" y2="378.10" stroke="#333" stroke-width="1.1"/><text x="214.10" y="381.40" font-size="11.55" text-anchor="end" font-weight="normal" font-style="normal" fill="#4D4D4D" >0.005</text><line x1="215.4" y1="323.00" x2="218.3" y2="323.00" stroke="#333" stroke-width="1.1"/><text x="214.10" y="326.30" font-size="11.55" text-anchor="end" font-weight="normal" font-style="normal" fill="#4D4D4D" >0.010</text><line x1="215.4" y1="267.90" x2="218.3" y2="267.90" stroke="#333" stroke-width="1.1"/><text x="214.10" y="271.20" font-size="11.55" text-anchor="end" font-weight="normal" font-style="normal" fill="#4D4D4D" >0.015</text><line x1="227.9" y1="442.2" x2="227.9" y2="445.09999999999997" stroke="#333" stroke-width="1.1"/><text x="229.10" y="454.60" font-size="11.55" text-anchor="middle" font-weight="normal" font-style="normal" fill="#4D4D4D" >2016</text><line x1="322.8" y1="442.2" x2="322.8" y2="445.09999999999997" stroke="#333" stroke-width="1.1"/><text x="324.00" y="454.60" font-size="11.55" text-anchor="middle" font-weight="normal" font-style="normal" fill="#4D4D4D" >2017</text><line x1="416.6" y1="442.2" x2="416.6" y2="445.09999999999997" stroke="#333" stroke-width="1.1"/><text x="417.80" y="454.60" font-size="11.55" text-anchor="middle" font-weight="normal" font-style="normal" fill="#4D4D4D" >2018</text><line x1="510.3" y1="442.2" x2="510.3" y2="445.09999999999997" stroke="#333" stroke-width="1.1"/><text x="511.50" y="454.60" font-size="11.55" text-anchor="middle" font-weight="normal" font-style="normal" fill="#4D4D4D" >2019</text><line x1="604.4" y1="442.2" x2="604.4" y2="445.09999999999997" stroke="#333" stroke-width="1.1"/><text x="605.60" y="454.60" font-size="11.55" text-anchor="middle" font-weight="normal" font-style="normal" fill="#4D4D4D" >2020</text><text x="426.50" y="476.20" font-size="11.55" text-anchor="middle" font-weight="normal" font-style="normal" fill="#1A1A1A" >year</text><text transform="translate(180.9,344.85) rotate(-90)" font-size="11.55" text-anchor="middle" fill="#1A1A1A">Relative abundance %</text><rect x="308.70" y="423.00" width="4.2" height="10.20" fill="#433F43" stroke="#231F20" stroke-width="0.5"/><rect x="321.20" y="426.00" width="4.2" height="7.20" fill="#433F43" stroke="#231F20" stroke-width="0.5"/><rect x="341.20" y="427.00" width="4.2" height="6.20" fill="#433F43" stroke="#231F20" stroke-width="0.5"/><rect x="359.20" y="428.00" width="4.2" height="5.20" fill="#433F43" stroke="#231F20" stroke-width="0.5"/><rect x="387.90" y="250.20" width="4.2" height="183.00" fill="#433F43" stroke="#231F20" stroke-width="0.5"/><rect x="403.90" y="424.00" width="4.2" height="9.20" fill="#433F43" stroke="#231F20" stroke-width="0.5"/><rect x="410.10" y="427.60" width="4.2" height="5.60" fill="#433F43" stroke="#231F20" stroke-width="0.5"/><rect x="418.00" y="423.60" width="4.2" height="9.60" fill="#433F43" stroke="#231F20" stroke-width="0.5"/><rect x="433.00" y="409.40" width="4.2" height="23.80" fill="#433F43" stroke="#231F20" stroke-width="0.5"/><rect x="441.40" y="338.50" width="4.2" height="94.70" fill="#433F43" stroke="#231F20" stroke-width="0.5"/><rect x="454.10" y="364.00" width="4.2" height="69.20" fill="#433F43" stroke="#231F20" stroke-width="0.5"/><rect x="459.70" y="361.00" width="4.2" height="72.20" fill="#433F43" stroke="#231F20" stroke-width="0.5"/><rect x="463.30" y="269.00" width="4.2" height="164.20" fill="#433F43" stroke="#231F20" stroke-width="0.5"/><rect x="481.30" y="405.00" width="4.2" height="28.20" fill="#433F43" stroke="#231F20" stroke-width="0.5"/><rect x="488.50" y="408.80" width="4.2" height="24.40" fill="#433F43" stroke="#231F20" stroke-width="0.5"/><rect x="500.80" y="397.30" width="4.2" height="35.90" fill="#433F43" stroke="#231F20" stroke-width="0.5"/><rect x="509.50" y="379.60" width="4.2" height="53.60" fill="#433F43" stroke="#231F20" stroke-width="0.5"/><rect x="552.90" y="375.80" width="4.2" height="57.40" fill="#433F43" stroke="#231F20" stroke-width="0.5"/><rect x="569.10" y="403.00" width="4.2" height="30.20" fill="#433F43" stroke="#231F20" stroke-width="0.5"/><rect x="576.70" y="360.00" width="4.2" height="73.20" fill="#433F43" stroke="#231F20" stroke-width="0.5"/><rect x="581.70" y="401.00" width="4.2" height="32.20" fill="#433F43" stroke="#231F20" stroke-width="0.5"/><rect x="591.10" y="406.00" width="4.2" height="27.20" fill="#433F43" stroke="#231F20" stroke-width="0.5"/><rect x="596.10" y="325.00" width="4.2" height="108.20" fill="#433F43" stroke="#231F20" stroke-width="0.5"/><rect x="603.40" y="373.80" width="4.2" height="59.40" fill="#433F43" stroke="#231F20" stroke-width="0.5"/><rect x="615.40" y="408.80" width="4.2" height="24.40" fill="#433F43" stroke="#231F20" stroke-width="0.5"/><path d="M238.3,433.5 L244.7,433.5 L249.2,433.5 L258.3,433.5 L266.7,433.5 L275.0,433.5 L280.0,433.5 L290.5,433.5 L297.5,433.5 L310.8,433.5 L323.3,433.5 L336.2,433.5 L343.3,433.5 L348.3,433.5 L361.3,433.5 L367.8,433.5 L376.7,433.5 L390.0,433.5 L406.0,433.5 L412.2,433.5 L420.1,433.5 L431.4,433.5 L435.1,433.5 L443.5,433.5 L456.2,433.5 L461.8,433.5 L465.4,433.5 L483.4,433.5 L490.6,433.5 L502.9,433.5 L511.6,433.5 L530.0,433.5 L555.0,433.5 L571.2,433.5 L578.8,433.5 L583.8,433.5 L593.2,433.5 L598.2,433.5 L605.5,433.5 L617.5,433.5" fill="none" stroke="#2E8B46" stroke-width="2.3" stroke-linejoin="round"/><path d="M238.3,433.0 L244.7,433.0 L249.2,433.0 L258.3,433.0 L266.7,433.0 L275.0,433.0 L280.0,433.0 L290.5,433.0 L297.5,432.0 L310.8,428.0 L323.3,433.0 L336.2,433.0 L343.3,433.0 L348.3,433.0 L361.3,433.0 L367.8,433.0 L376.7,433.0 L390.0,420.3 L406.0,432.0 L412.2,432.0 L420.1,432.0 L431.4,431.0 L435.1,431.0 L443.5,431.0 L456.2,430.0 L461.8,428.0 L465.4,430.0 L483.4,431.0 L490.6,430.0 L502.9,431.0 L511.6,430.0 L530.0,431.0 L555.0,425.0 L571.2,429.0 L578.8,425.0 L583.8,429.0 L593.2,430.0 L598.2,425.0 L605.5,428.0 L617.5,430.0" fill="none" stroke="#2E8B46" stroke-width="2.3" stroke-linejoin="round"/><path d="M238.3,433.0 L244.7,433.0 L249.2,433.0 L258.3,432.0 L266.7,432.0 L275.0,433.0 L280.0,433.0 L290.5,432.0 L297.5,431.0 L310.8,425.0 L323.3,433.0 L336.2,433.0 L343.3,433.0 L348.3,433.0 L361.3,432.0 L367.8,433.0 L376.7,433.0 L390.0,405.3 L406.0,431.0 L412.2,430.0 L420.1,430.0 L431.4,430.0 L435.1,429.0 L443.5,428.0 L456.2,425.0 L461.8,420.0 L465.4,428.0 L483.4,428.0 L490.6,428.0 L502.9,428.0 L511.6,428.0 L530.0,430.0 L555.0,418.0 L571.2,426.0 L578.8,418.0 L583.8,425.0 L593.2,428.0 L598.2,418.0 L605.5,420.0 L617.5,427.0" fill="none" stroke="#2E8B46" stroke-width="2.3" stroke-linejoin="round"/><path d="M238.3,433.0 L244.7,433.0 L249.2,433.0 L258.3,430.0 L266.7,431.0 L275.0,432.0 L280.0,432.0 L290.5,431.0 L297.5,430.0 L310.8,422.0 L323.3,433.0 L336.2,432.0 L343.3,433.0 L348.3,432.0 L361.3,431.0 L367.8,432.0 L376.7,432.0 L390.0,398.8 L406.0,430.0 L412.2,428.0 L420.1,427.0 L431.4,428.0 L435.1,427.0 L443.5,425.0 L456.2,418.0 L461.8,412.0 L465.4,420.0 L483.4,420.0 L490.6,422.0 L502.9,424.0 L511.6,424.0 L530.0,429.0 L555.0,412.0 L571.2,420.0 L578.8,410.0 L583.8,420.0 L593.2,426.0 L598.2,405.0 L605.5,410.0 L617.5,424.0" fill="none" stroke="#2E8B46" stroke-width="2.3" stroke-linejoin="round"/><path d="M238.3,433.0 L244.7,433.0 L249.2,433.0 L258.3,426.0 L266.7,427.0 L275.0,431.0 L280.0,432.0 L290.5,430.0 L297.5,428.0 L310.8,418.0 L323.3,433.0 L336.2,431.0 L343.3,432.0 L348.3,431.0 L361.3,428.0 L367.8,430.0 L376.7,430.0 L390.0,387.2 L406.0,424.2 L412.2,423.7 L420.1,421.0 L431.4,425.0 L435.1,420.0 L443.5,420.0 L456.2,420.0 L461.8,416.0 L465.4,425.4 L483.4,377.1 L490.6,418.0 L502.9,420.0 L511.6,420.0 L530.0,428.0 L555.0,407.7 L571.2,412.0 L578.8,400.0 L583.8,412.0 L593.2,424.0 L598.2,390.0 L605.5,395.0 L617.5,419.0" fill="none" stroke="#2E8B46" stroke-width="2.3" stroke-linejoin="round"/><path d="M238.3,415.0 L244.7,433.0 L249.2,433.0 L258.3,428.0 L266.7,428.0 L275.0,416.7 L280.0,416.7 L290.5,421.3 L297.5,416.7 L310.8,420.0 L323.3,432.0 L336.2,430.0 L343.3,431.0 L348.3,430.0 L361.3,420.8 L367.8,425.0 L376.7,426.3 L390.0,272.0 L406.0,415.8 L412.2,412.3 L420.1,415.6 L431.4,404.5 L435.1,430.0 L443.5,392.6 L456.2,388.2 L461.8,319.0 L465.4,368.5 L483.4,371.7 L490.6,408.3 L502.9,417.0 L511.6,411.9 L530.0,427.5 L555.0,369.8 L571.2,375.5 L578.8,380.0 L583.8,402.5 L593.2,422.5 L598.2,367.5 L605.5,372.5 L617.5,417.5" fill="none" stroke="#2E8B46" stroke-width="2.3" stroke-linejoin="round"/><path d="M238.3,433.0 L244.7,433.0 L249.2,433.0 L258.3,381.7 L266.7,433.0 L275.0,432.0 L280.0,433.0 L290.5,431.0 L297.5,428.0 L310.8,414.0 L323.3,433.0 L336.2,433.0 L343.3,433.0 L348.3,433.0 L361.3,433.0 L367.8,433.0 L376.7,433.0 L390.0,407.5 L406.0,430.5 L412.2,429.5 L420.1,429.0 L431.4,427.6 L435.1,426.1 L443.5,420.3 L456.2,408.6 L461.8,416.4 L465.4,409.0 L483.4,417.5 L490.6,418.0 L502.9,424.8 L511.6,425.4 L530.0,428.3 L555.0,421.0 L571.2,425.0 L578.8,408.8 L583.8,427.5 L593.2,423.8 L598.2,416.0 L605.5,420.0 L617.5,421.3" fill="none" stroke="#7F0E1C" stroke-width="2.3" stroke-linejoin="round"/><circle cx="238.3" cy="415.0" r="1.5" fill="#000"/><circle cx="244.7" cy="433.0" r="1.5" fill="#000"/><circle cx="249.2" cy="433.0" r="1.5" fill="#000"/><circle cx="258.3" cy="428.0" r="1.5" fill="#000"/><circle cx="266.7" cy="428.0" r="1.5" fill="#000"/><circle cx="275.0" cy="416.7" r="1.5" fill="#000"/><circle cx="280.0" cy="416.7" r="1.5" fill="#000"/><circle cx="290.5" cy="421.3" r="1.5" fill="#000"/><circle cx="297.5" cy="416.7" r="1.5" fill="#000"/><circle cx="310.8" cy="420.0" r="1.5" fill="#000"/><circle cx="323.3" cy="432.0" r="1.5" fill="#000"/><circle cx="336.2" cy="430.0" r="1.5" fill="#000"/><circle cx="343.3" cy="431.0" r="1.5" fill="#000"/><circle cx="348.3" cy="430.0" r="1.5" fill="#000"/><circle cx="361.3" cy="420.8" r="1.5" fill="#000"/><circle cx="367.8" cy="425.0" r="1.5" fill="#000"/><circle cx="376.7" cy="426.3" r="1.5" fill="#000"/><circle cx="390.0" cy="272.0" r="1.5" fill="#000"/><circle cx="406.0" cy="415.8" r="1.5" fill="#000"/><circle cx="412.2" cy="412.3" r="1.5" fill="#000"/><circle cx="420.1" cy="415.6" r="1.5" fill="#000"/><circle cx="431.4" cy="404.5" r="1.5" fill="#000"/><circle cx="435.1" cy="430.0" r="1.5" fill="#000"/><circle cx="443.5" cy="392.6" r="1.5" fill="#000"/><circle cx="456.2" cy="388.2" r="1.5" fill="#000"/><circle cx="461.8" cy="319.0" r="1.5" fill="#000"/><circle cx="465.4" cy="368.5" r="1.5" fill="#000"/><circle cx="483.4" cy="371.7" r="1.5" fill="#000"/><circle cx="490.6" cy="408.3" r="1.5" fill="#000"/><circle cx="502.9" cy="417.0" r="1.5" fill="#000"/><circle cx="511.6" cy="411.9" r="1.5" fill="#000"/><circle cx="530.0" cy="427.5" r="1.5" fill="#000"/><circle cx="555.0" cy="369.8" r="1.5" fill="#000"/><circle cx="571.2" cy="375.5" r="1.5" fill="#000"/><circle cx="578.8" cy="380.0" r="1.5" fill="#000"/><circle cx="583.8" cy="402.5" r="1.5" fill="#000"/><circle cx="593.2" cy="422.5" r="1.5" fill="#000"/><circle cx="598.2" cy="367.5" r="1.5" fill="#000"/><circle cx="605.5" cy="372.5" r="1.5" fill="#000"/><circle cx="617.5" cy="417.5" r="1.5" fill="#000"/><circle cx="238.3" cy="433.0" r="1.5" fill="#000"/><circle cx="244.7" cy="433.0" r="1.5" fill="#000"/><circle cx="249.2" cy="433.0" r="1.5" fill="#000"/><circle cx="258.3" cy="426.0" r="1.5" fill="#000"/><circle cx="266.7" cy="427.0" r="1.5" fill="#000"/><circle cx="275.0" cy="431.0" r="1.5" fill="#000"/><circle cx="280.0" cy="432.0" r="1.5" fill="#000"/><circle cx="290.5" cy="430.0" r="1.5" fill="#000"/><circle cx="297.5" cy="428.0" r="1.5" fill="#000"/><circle cx="310.8" cy="418.0" r="1.5" fill="#000"/><circle cx="323.3" cy="433.0" r="1.5" fill="#000"/><circle cx="336.2" cy="431.0" r="1.5" fill="#000"/><circle cx="343.3" cy="432.0" r="1.5" fill="#000"/><circle cx="348.3" cy="431.0" r="1.5" fill="#000"/><circle cx="361.3" cy="428.0" r="1.5" fill="#000"/><circle cx="367.8" cy="430.0" r="1.5" fill="#000"/><circle cx="376.7" cy="430.0" r="1.5" fill="#000"/><circle cx="390.0" cy="387.2" r="1.5" fill="#000"/><circle cx="406.0" cy="424.2" r="1.5" fill="#000"/><circle cx="412.2" cy="423.7" r="1.5" fill="#000"/><circle cx="420.1" cy="421.0" r="1.5" fill="#000"/><circle cx="431.4" cy="425.0" r="1.5" fill="#000"/><circle cx="435.1" cy="420.0" r="1.5" fill="#000"/><circle cx="443.5" cy="420.0" r="1.5" fill="#000"/><circle cx="456.2" cy="420.0" r="1.5" fill="#000"/><circle cx="461.8" cy="416.0" r="1.5" fill="#000"/><circle cx="465.4" cy="425.4" r="1.5" fill="#000"/><circle cx="483.4" cy="377.1" r="1.5" fill="#000"/><circle cx="490.6" cy="418.0" r="1.5" fill="#000"/><circle cx="502.9" cy="420.0" r="1.5" fill="#000"/><circle cx="511.6" cy="420.0" r="1.5" fill="#000"/><circle cx="530.0" cy="428.0" r="1.5" fill="#000"/><circle cx="555.0" cy="407.7" r="1.5" fill="#000"/><circle cx="571.2" cy="412.0" r="1.5" fill="#000"/><circle cx="578.8" cy="400.0" r="1.5" fill="#000"/><circle cx="583.8" cy="412.0" r="1.5" fill="#000"/><circle cx="593.2" cy="424.0" r="1.5" fill="#000"/><circle cx="598.2" cy="390.0" r="1.5" fill="#000"/><circle cx="605.5" cy="395.0" r="1.5" fill="#000"/><circle cx="617.5" cy="419.0" r="1.5" fill="#000"/><circle cx="238.3" cy="433.0" r="1.5" fill="#000"/><circle cx="244.7" cy="433.0" r="1.5" fill="#000"/><circle cx="249.2" cy="433.0" r="1.5" fill="#000"/><circle cx="258.3" cy="430.0" r="1.5" fill="#000"/><circle cx="266.7" cy="431.0" r="1.5" fill="#000"/><circle cx="275.0" cy="432.0" r="1.5" fill="#000"/><circle cx="280.0" cy="432.0" r="1.5" fill="#000"/><circle cx="290.5" cy="431.0" r="1.5" fill="#000"/><circle cx="297.5" cy="430.0" r="1.5" fill="#000"/><circle cx="310.8" cy="422.0" r="1.5" fill="#000"/><circle cx="323.3" cy="433.0" r="1.5" fill="#000"/><circle cx="336.2" cy="432.0" r="1.5" fill="#000"/><circle cx="343.3" cy="433.0" r="1.5" fill="#000"/><circle cx="348.3" cy="432.0" r="1.5" fill="#000"/><circle cx="361.3" cy="431.0" r="1.5" fill="#000"/><circle cx="367.8" cy="432.0" r="1.5" fill="#000"/><circle cx="376.7" cy="432.0" r="1.5" fill="#000"/><circle cx="390.0" cy="398.8" r="1.5" fill="#000"/><circle cx="406.0" cy="430.0" r="1.5" fill="#000"/><circle cx="412.2" cy="428.0" r="1.5" fill="#000"/><circle cx="420.1" cy="427.0" r="1.5" fill="#000"/><circle cx="431.4" cy="428.0" r="1.5" fill="#000"/><circle cx="435.1" cy="427.0" r="1.5" fill="#000"/><circle cx="443.5" cy="425.0" r="1.5" fill="#000"/><circle cx="456.2" cy="418.0" r="1.5" fill="#000"/><circle cx="461.8" cy="412.0" r="1.5" fill="#000"/><circle cx="465.4" cy="420.0" r="1.5" fill="#000"/><circle cx="483.4" cy="420.0" r="1.5" fill="#000"/><circle cx="490.6" cy="422.0" r="1.5" fill="#000"/><circle cx="502.9" cy="424.0" r="1.5" fill="#000"/><circle cx="511.6" cy="424.0" r="1.5" fill="#000"/><circle cx="530.0" cy="429.0" r="1.5" fill="#000"/><circle cx="555.0" cy="412.0" r="1.5" fill="#000"/><circle cx="571.2" cy="420.0" r="1.5" fill="#000"/><circle cx="578.8" cy="410.0" r="1.5" fill="#000"/><circle cx="583.8" cy="420.0" r="1.5" fill="#000"/><circle cx="593.2" cy="426.0" r="1.5" fill="#000"/><circle cx="598.2" cy="405.0" r="1.5" fill="#000"/><circle cx="605.5" cy="410.0" r="1.5" fill="#000"/><circle cx="617.5" cy="424.0" r="1.5" fill="#000"/><circle cx="238.3" cy="433.0" r="1.5" fill="#000"/><circle cx="244.7" cy="433.0" r="1.5" fill="#000"/><circle cx="249.2" cy="433.0" r="1.5" fill="#000"/><circle cx="258.3" cy="432.0" r="1.5" fill="#000"/><circle cx="266.7" cy="432.0" r="1.5" fill="#000"/><circle cx="275.0" cy="433.0" r="1.5" fill="#000"/><circle cx="280.0" cy="433.0" r="1.5" fill="#000"/><circle cx="290.5" cy="432.0" r="1.5" fill="#000"/><circle cx="297.5" cy="431.0" r="1.5" fill="#000"/><circle cx="310.8" cy="425.0" r="1.5" fill="#000"/><circle cx="323.3" cy="433.0" r="1.5" fill="#000"/><circle cx="336.2" cy="433.0" r="1.5" fill="#000"/><circle cx="343.3" cy="433.0" r="1.5" fill="#000"/><circle cx="348.3" cy="433.0" r="1.5" fill="#000"/><circle cx="361.3" cy="432.0" r="1.5" fill="#000"/><circle cx="367.8" cy="433.0" r="1.5" fill="#000"/><circle cx="376.7" cy="433.0" r="1.5" fill="#000"/><circle cx="390.0" cy="405.3" r="1.5" fill="#000"/><circle cx="406.0" cy="431.0" r="1.5" fill="#000"/><circle cx="412.2" cy="430.0" r="1.5" fill="#000"/><circle cx="420.1" cy="430.0" r="1.5" fill="#000"/><circle cx="431.4" cy="430.0" r="1.5" fill="#000"/><circle cx="435.1" cy="429.0" r="1.5" fill="#000"/><circle cx="443.5" cy="428.0" r="1.5" fill="#000"/><circle cx="456.2" cy="425.0" r="1.5" fill="#000"/><circle cx="461.8" cy="420.0" r="1.5" fill="#000"/><circle cx="465.4" cy="428.0" r="1.5" fill="#000"/><circle cx="483.4" cy="428.0" r="1.5" fill="#000"/><circle cx="490.6" cy="428.0" r="1.5" fill="#000"/><circle cx="502.9" cy="428.0" r="1.5" fill="#000"/><circle cx="511.6" cy="428.0" r="1.5" fill="#000"/><circle cx="530.0" cy="430.0" r="1.5" fill="#000"/><circle cx="555.0" cy="418.0" r="1.5" fill="#000"/><circle cx="571.2" cy="426.0" r="1.5" fill="#000"/><circle cx="578.8" cy="418.0" r="1.5" fill="#000"/><circle cx="583.8" cy="425.0" r="1.5" fill="#000"/><circle cx="593.2" cy="428.0" r="1.5" fill="#000"/><circle cx="598.2" cy="418.0" r="1.5" fill="#000"/><circle cx="605.5" cy="420.0" r="1.5" fill="#000"/><circle cx="617.5" cy="427.0" r="1.5" fill="#000"/><circle cx="238.3" cy="433.0" r="1.5" fill="#000"/><circle cx="244.7" cy="433.0" r="1.5" fill="#000"/><circle cx="249.2" cy="433.0" r="1.5" fill="#000"/><circle cx="258.3" cy="433.0" r="1.5" fill="#000"/><circle cx="266.7" cy="433.0" r="1.5" fill="#000"/><circle cx="275.0" cy="433.0" r="1.5" fill="#000"/><circle cx="280.0" cy="433.0" r="1.5" fill="#000"/><circle cx="290.5" cy="433.0" r="1.5" fill="#000"/><circle cx="297.5" cy="432.0" r="1.5" fill="#000"/><circle cx="310.8" cy="428.0" r="1.5" fill="#000"/><circle cx="323.3" cy="433.0" r="1.5" fill="#000"/><circle cx="336.2" cy="433.0" r="1.5" fill="#000"/><circle cx="343.3" cy="433.0" r="1.5" fill="#000"/><circle cx="348.3" cy="433.0" r="1.5" fill="#000"/><circle cx="361.3" cy="433.0" r="1.5" fill="#000"/><circle cx="367.8" cy="433.0" r="1.5" fill="#000"/><circle cx="376.7" cy="433.0" r="1.5" fill="#000"/><circle cx="390.0" cy="420.3" r="1.5" fill="#000"/><circle cx="406.0" cy="432.0" r="1.5" fill="#000"/><circle cx="412.2" cy="432.0" r="1.5" fill="#000"/><circle cx="420.1" cy="432.0" r="1.5" fill="#000"/><circle cx="431.4" cy="431.0" r="1.5" fill="#000"/><circle cx="435.1" cy="431.0" r="1.5" fill="#000"/><circle cx="443.5" cy="431.0" r="1.5" fill="#000"/><circle cx="456.2" cy="430.0" r="1.5" fill="#000"/><circle cx="461.8" cy="428.0" r="1.5" fill="#000"/><circle cx="465.4" cy="430.0" r="1.5" fill="#000"/><circle cx="483.4" cy="431.0" r="1.5" fill="#000"/><circle cx="490.6" cy="430.0" r="1.5" fill="#000"/><circle cx="502.9" cy="431.0" r="1.5" fill="#000"/><circle cx="511.6" cy="430.0" r="1.5" fill="#000"/><circle cx="530.0" cy="431.0" r="1.5" fill="#000"/><circle cx="555.0" cy="425.0" r="1.5" fill="#000"/><circle cx="571.2" cy="429.0" r="1.5" fill="#000"/><circle cx="578.8" cy="425.0" r="1.5" fill="#000"/><circle cx="583.8" cy="429.0" r="1.5" fill="#000"/><circle cx="593.2" cy="430.0" r="1.5" fill="#000"/><circle cx="598.2" cy="425.0" r="1.5" fill="#000"/><circle cx="605.5" cy="428.0" r="1.5" fill="#000"/><circle cx="617.5" cy="430.0" r="1.5" fill="#000"/><circle cx="238.3" cy="433.0" r="1.5" fill="#000"/><circle cx="244.7" cy="433.0" r="1.5" fill="#000"/><circle cx="249.2" cy="433.0" r="1.5" fill="#000"/><circle cx="258.3" cy="381.7" r="1.5" fill="#000"/><circle cx="266.7" cy="433.0" r="1.5" fill="#000"/><circle cx="275.0" cy="432.0" r="1.5" fill="#000"/><circle cx="280.0" cy="433.0" r="1.5" fill="#000"/><circle cx="290.5" cy="431.0" r="1.5" fill="#000"/><circle cx="297.5" cy="428.0" r="1.5" fill="#000"/><circle cx="310.8" cy="414.0" r="1.5" fill="#000"/><circle cx="323.3" cy="433.0" r="1.5" fill="#000"/><circle cx="336.2" cy="433.0" r="1.5" fill="#000"/><circle cx="343.3" cy="433.0" r="1.5" fill="#000"/><circle cx="348.3" cy="433.0" r="1.5" fill="#000"/><circle cx="361.3" cy="433.0" r="1.5" fill="#000"/><circle cx="367.8" cy="433.0" r="1.5" fill="#000"/><circle cx="376.7" cy="433.0" r="1.5" fill="#000"/><circle cx="390.0" cy="407.5" r="1.5" fill="#000"/><circle cx="406.0" cy="430.5" r="1.5" fill="#000"/><circle cx="412.2" cy="429.5" r="1.5" fill="#000"/><circle cx="420.1" cy="429.0" r="1.5" fill="#000"/><circle cx="431.4" cy="427.6" r="1.5" fill="#000"/><circle cx="435.1" cy="426.1" r="1.5" fill="#000"/><circle cx="443.5" cy="420.3" r="1.5" fill="#000"/><circle cx="456.2" cy="408.6" r="1.5" fill="#000"/><circle cx="461.8" cy="416.4" r="1.5" fill="#000"/><circle cx="465.4" cy="409.0" r="1.5" fill="#000"/><circle cx="483.4" cy="417.5" r="1.5" fill="#000"/><circle cx="490.6" cy="418.0" r="1.5" fill="#000"/><circle cx="502.9" cy="424.8" r="1.5" fill="#000"/><circle cx="511.6" cy="425.4" r="1.5" fill="#000"/><circle cx="530.0" cy="428.3" r="1.5" fill="#000"/><circle cx="555.0" cy="421.0" r="1.5" fill="#000"/><circle cx="571.2" cy="425.0" r="1.5" fill="#000"/><circle cx="578.8" cy="408.8" r="1.5" fill="#000"/><circle cx="583.8" cy="427.5" r="1.5" fill="#000"/><circle cx="593.2" cy="423.8" r="1.5" fill="#000"/><circle cx="598.2" cy="416.0" r="1.5" fill="#000"/><circle cx="605.5" cy="420.0" r="1.5" fill="#000"/><circle cx="617.5" cy="421.3" r="1.5" fill="#000"/><rect x="238.55" y="244.65" width="13.80" height="13.50" fill="#231F20" stroke="#000" stroke-width="1.1"/><text x="258.00" y="254.70" font-size="11.55" text-anchor="start" font-weight="normal" font-style="italic" fill="#1A1A1A" >Cylindrotheca</text><rect x="238.55" y="260.60" width="13.80" height="13.50" fill="#7F0E1C" stroke="#000" stroke-width="1.1"/><text x="258.00" y="270.65" font-size="11.55" text-anchor="start" font-weight="normal" font-style="normal" fill="#1A1A1A" >Generalist</text><rect x="238.55" y="276.55" width="13.80" height="13.50" fill="#5DB568" stroke="#000" stroke-width="1.1"/><text x="258.00" y="286.60" font-size="11.55" text-anchor="start" font-weight="normal" font-style="normal" fill="#1A1A1A" >Specialist</text></svg>
</body></html>
